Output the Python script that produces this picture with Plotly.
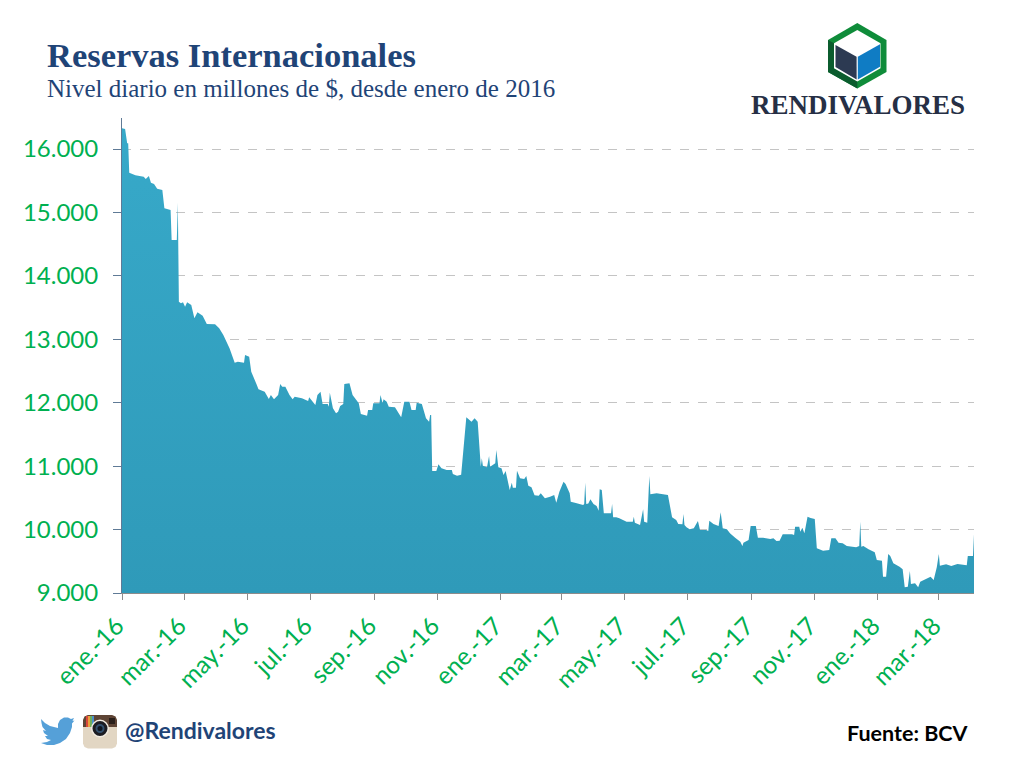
import pandas as pd
import plotly.graph_objects as go

# Days since 2016-01-01
days = [0,3,5,6,7,13,21,23,26,28,31,34,39,41,47,48,53,54,55,57,59,61,63,67,70,73,78,82,90,94,98,102,104,109,112,118,119,123,125,130,
 132,138,142,144,147,151,153,155,158,162,165,167,174,180,181,187,189,192,194,199,200,201,204,207,209,211,214,215,220,223,
 229,231,237,238,242,243,249,250,252,253,256,258,264,270,273,278,280,284,285,290,294,297,298,299,300,304,306,309,314,319,
 320,324,327,328,333,335,338,341,344,347,348,349,353,355,356,361,362,364,367,369,371,375,377,378,381,382,385,389,391,393,
 396,399,403,405,409,414,418,420,423,427,429,433,434,438,443,446,447,448,449,451,453,456,459,461,462,464,466,473,474,475,
 478,481,488,494,495,496,501,504,505,508,510,511,517,523,528,532,536,538,542,543,544,546,549,553,557,559,565,567,568,572,
 577,579,581,585,588,593,598,600,601,606,608,613,615,620,627,630,633,636,639,648,650,651,655,656,658,660,663,666,670,672,
 678,684,686,690,693,697,701,710,713,714,715,717,722,728,730,735,736,739,741,743,746,752,755,757,760,762,763,767,770,772,
 780,782,785,788,790,791,797,802,808,817,818,823,824]

# Reserves, millions of $
reserves = [16326,16315,16090,16090,15626,15585,15563,15527,15574,15468,15448,15374,15353,15065,15038,14565,14565,15153,13592,13567,13583,13513,13583,13540,13330,13425,13372,13241,13236,13173,13067,12910,12858,12631,12647,12631,12752,12725,12489,12295,
 12211,12174,12058,12121,12053,12121,12295,12253,12253,12121,12053,12095,12069,12027,12085,11964,12121,12174,11980,11980,11937,12158,11912,11833,11858,11948,11980,12295,12306,12121,
 11990,11822,11795,11885,11885,11990,11990,12121,11995,12053,12016,11937,11927,11770,12016,12016,11885,11885,12000,11980,11754,11700,11806,11806,10923,10923,11029,10966,10939,10939,
 10876,10849,10865,10865,11770,11743,11700,11754,11700,10991,11124,11007,10982,11160,10991,11045,11255,10982,10966,10860,10923,10624,10739,10660,10660,10928,10808,10797,10845,10692,
 10666,10540,10534,10572,10493,10518,10545,10424,10597,10755,10718,10572,10440,10424,10403,10387,10403,10739,10403,10413,10477,10403,10372,10298,10635,10624,10256,10256,10403,10193,
 10193,10177,10124,10124,10203,10108,10072,10319,10124,10108,10845,10556,10572,10556,10545,10193,10151,10088,10083,10246,10072,10036,10004,10020,10135,9993,9993,9977,10140,10088,
 10056,10272,10020,10004,9941,9872,9809,9741,9793,9835,10056,10056,9872,9872,9851,9862,9820,9825,9925,9925,9915,10045,10045,9966,10030,9941,10203,10183,10167,9705,
 9667,9678,9862,9862,9793,9783,9741,9720,9741,10124,9730,9741,9688,9642,9520,9509,9257,9257,9615,9583,9468,9415,9374,9090,9100,9347,9142,9153,9090,9178,
 9241,9257,9205,9405,9615,9430,9452,9426,9457,9436,9583,9583,9925]

x_tick_dates = ["2016-01-01","2016-03-01","2016-05-01","2016-07-01","2016-09-01","2016-11-01","2017-01-01",
                "2017-03-01","2017-05-01","2017-07-01","2017-09-01","2017-11-01","2018-01-01","2018-03-01"]
x_tick_labels = ["ene.-16","mar.-16","may.-16","jul.-16","sep.-16","nov.-16","ene.-17",
                 "mar.-17","may.-17","jul.-17","sep.-17","nov.-17","ene.-18","mar.-18"]
y_tick_values = [9000,10000,11000,12000,13000,14000,15000,16000]
y_tick_labels = ["9.000","10.000","11.000","12.000","13.000","14.000","15.000","16.000"]

W, H = 1015, 762
L, R, T, B = 122, 41, 118, 169
PW, PH = W - L - R, H - T - B
start = pd.Timestamp("2016-01-01")
dates = [start + pd.Timedelta(days=d) for d in days]

def fx(x):
    return (x - L) / PW

def fy(y):
    return (H - B - y) / PH

def poly(points):
    return "M " + " L ".join(f"{fx(x):.5f},{fy(y):.5f}" for x, y in points) + " Z"

def shape(points, fill):
    return dict(type="path", xref="paper", yref="paper", path=poly(points),
                fillcolor=fill, line=dict(width=0), layer="above")

def box(x0, y0, x1, y1, fill, kind="rect"):
    return dict(type=kind, xref="paper", yref="paper", x0=fx(x0), x1=fx(x1), y0=fy(y0), y1=fy(y1),
                fillcolor=fill, line=dict(width=0), layer="above")

def rounded(x0, y0, x1, y1, r, fill):
    pts = [(x0+r,y0),(x1-r,y0),(x1-r*.3,y0+r*.3),(x1,y0+r),(x1,y1-r),(x1-r*.3,y1-r*.3),(x1-r,y1),
           (x0+r,y1),(x0+r*.3,y1-r*.3),(x0,y1-r),(x0,y0+r),(x0+r*.3,y0+r*.3)]
    return shape(pts, fill)

shapes = [
    # logo
    shape([(857.3,23),(886.5,40),(886.5,72),(857.3,88.5),(828,72),(828,40)], "#0f8c3a"),
    shape([(828,40),(828,72),(857.3,88.5),(857.3,81),(834,68.3),(834,43.3)], "#0b5c2e"),
    shape([(857.3,30),(880.5,43.3),(880.5,68.3),(857.3,81.5),(834,68.3),(834,43.3)], "#ffffff"),
    shape([(835.5,45),(856.6,56.7),(856.6,79.5),(835.5,67)], "#2c3a52"),
    shape([(857.8,56.7),(880,44.3),(880,66.7),(857.8,79.5)], "#0f7cc4"),
    # twitter bird
    shape([(41,719),(45,723),(50,726),(58,728),(58,724),(60,720),(64,717.5),(68,717.5),(71,719),(74,718),(72.5,721),(74.5,720.5),
           (72,723.5),(72,727),(70,733),(66,739),(60,743),(54,745),(47,745),(41,743),(47,742),(51,740),(47,739),(45,736),(48,736),
           (44,733),(43,730),(46,731),(42.5,727),(41.5,723)], "#55a0d8"),
    # instagram
    rounded(83,715,117,748.5,5,"#e2d6c3"),
    shape([(88,715),(112,715),(115.5,716.5),(117,720),(117,727),(83,727),(83,720),(84.5,716.5)], "#5e4435"),
    box(86,716,88,727,"#d9483b"), box(88,716,90,727,"#e8a33d"),
    box(90,716,92,727,"#6fae5d"), box(92,716,94,727,"#4a8fc9"),
    box(109,718,115,724,"#2a1f1a"),
    box(91,719.5,109,737.5,"#f2ece2","circle"),
    box(92.5,721,107.5,736,"#1c1c22","circle"),
    box(95.5,724,104.5,733,"#33506e","circle"),
    box(97.5,726,102.5,731,"#10161f","circle"),
]

def note(text, x, y, size, color, family, bold=False, anchor="left"):
    return dict(text=f"<b>{text}</b>" if bold else text, xref="paper", yref="paper",
                x=fx(x), y=fy(y), xanchor=anchor, yanchor="middle", showarrow=False,
                font=dict(size=size, color=color, family=family))

serif = "Liberation Serif"
sans = "Lato"
annotations = [
    note("Reservas Internacionales", 45, 55, 34.5, "#1f4477", serif, True),
    note("Nivel diario en millones de $, desde enero de 2016", 45, 88, 25, "#1f4477", serif),
    note("RENDIVALORES", 857.5, 105, 27, "#262f45", serif, True, "center"),
    note("@Rendivalores", 123, 730, 23, "#1f4477", sans, True),
    note("Fuente: BCV", 970.5, 733, 21.5, "#000000", sans, True, "right"),
]

fig = go.Figure(go.Scatter(
    x=dates, y=reserves, mode="lines", line=dict(width=0), fill="tozeroy",
    fillgradient=dict(type="vertical", start=16400, stop=9000,
                      colorscale=[[0, "#37a9c9"], [1, "#2f9ab9"]]),
    hoverinfo="x+y",
))
fig.update_layout(
    width=W, height=H, autosize=False, showlegend=False,
    paper_bgcolor="white", plot_bgcolor="white",
    margin=dict(l=L, r=R, t=T, b=B, pad=0),
    shapes=shapes, annotations=annotations,
    xaxis=dict(type="date", range=["2016-01-01", "2018-04-04"], tickmode="array",
               tickvals=x_tick_dates, ticktext=x_tick_labels, tickangle=-45,
               ticks="outside", ticklen=6, tickcolor="#8c8c8c", tickwidth=1,
               showline=True, linecolor="#8c8c8c", linewidth=1, showgrid=False, zeroline=False,
               ticklabelstandoff=2, ticklabelshift=-5,
               tickfont=dict(size=24.5, color="#00b050", family=sans)),
    yaxis=dict(range=[9000, 16489], tickmode="array", tickvals=y_tick_values, ticktext=y_tick_labels,
               ticks="outside", ticklen=8, tickcolor="#5f7a96", tickwidth=1,
               showline=True, linecolor="#5f7a96", linewidth=1, zeroline=False,
               showgrid=True, gridcolor="#c4c4c4", griddash="dash", gridwidth=1,
               ticklabelstandoff=10,
               tickfont=dict(size=24, color="#00b050", family=sans)),
)
fig.write_html("out.html", config={"displayModeBar": False},
               post_script="document.body.style.margin='0';")
